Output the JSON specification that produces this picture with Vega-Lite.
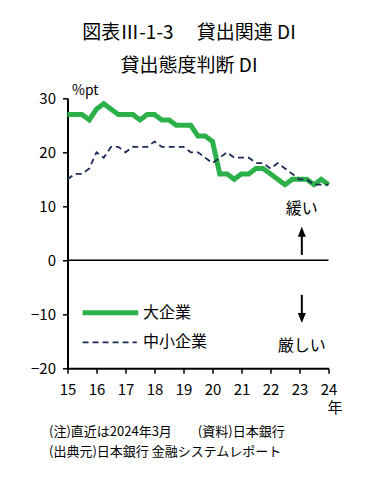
{
  "$schema": "https://vega.github.io/schema/vega-lite/v6.json",
  "width": 261,
  "height": 270,
  "autosize": {"type": "none"},
  "padding": {"left": 67.5, "top": 98.3, "right": 49.5, "bottom": 109.7},
  "background": "white",
  "title": {
    "text": "図表Ⅲ-1-3　 貸出関連 DI",
    "subtitle": "貸出態度判断 DI",
    "anchor": "middle",
    "frame": "group",
    "dx": -9,
    "offset": 7,
    "font": "Noto Sans CJK JP",
    "fontSize": 19,
    "fontWeight": "normal",
    "color": "black",
    "subtitleFont": "Noto Sans CJK JP",
    "subtitleFontSize": 19,
    "subtitleColor": "black",
    "subtitlePadding": 14
  },
  "config": {
    "view": {"stroke": null},
    "font": "Noto Sans CJK JP",
    "axis": {
      "domainColor": "black",
      "domainWidth": 2,
      "tickColor": "black",
      "tickWidth": 1.5,
      "tickSize": 5,
      "labelColor": "black",
      "labelFont": "Noto Sans CJK JP",
      "labelFontSize": 15,
      "labelOverlap": false,
      "titleColor": "black",
      "titleFont": "Noto Sans CJK JP",
      "titleFontWeight": "normal",
      "grid": false
    }
  },
  "datasets": {
    "series": [
      {"t": 15.0, "v": 27, "s": "大企業"}, {"t": 15.25, "v": 27, "s": "大企業"}, {"t": 15.5, "v": 27, "s": "大企業"}, {"t": 15.75, "v": 26, "s": "大企業"},
      {"t": 16.0, "v": 28, "s": "大企業"}, {"t": 16.25, "v": 29, "s": "大企業"}, {"t": 16.5, "v": 28, "s": "大企業"}, {"t": 16.75, "v": 27, "s": "大企業"},
      {"t": 17.0, "v": 27, "s": "大企業"}, {"t": 17.25, "v": 27, "s": "大企業"}, {"t": 17.5, "v": 26, "s": "大企業"}, {"t": 17.75, "v": 27, "s": "大企業"},
      {"t": 18.0, "v": 27, "s": "大企業"}, {"t": 18.25, "v": 26, "s": "大企業"}, {"t": 18.5, "v": 26, "s": "大企業"}, {"t": 18.75, "v": 25, "s": "大企業"},
      {"t": 19.0, "v": 25, "s": "大企業"}, {"t": 19.25, "v": 25, "s": "大企業"}, {"t": 19.5, "v": 23, "s": "大企業"}, {"t": 19.75, "v": 23, "s": "大企業"},
      {"t": 20.0, "v": 22, "s": "大企業"}, {"t": 20.25, "v": 16, "s": "大企業"}, {"t": 20.5, "v": 16, "s": "大企業"}, {"t": 20.75, "v": 15, "s": "大企業"},
      {"t": 21.0, "v": 16, "s": "大企業"}, {"t": 21.25, "v": 16, "s": "大企業"}, {"t": 21.5, "v": 17, "s": "大企業"}, {"t": 21.75, "v": 17, "s": "大企業"},
      {"t": 22.0, "v": 16, "s": "大企業"}, {"t": 22.25, "v": 15, "s": "大企業"}, {"t": 22.5, "v": 14, "s": "大企業"}, {"t": 22.75, "v": 15, "s": "大企業"},
      {"t": 23.0, "v": 15, "s": "大企業"}, {"t": 23.25, "v": 15, "s": "大企業"}, {"t": 23.5, "v": 14, "s": "大企業"}, {"t": 23.75, "v": 15, "s": "大企業"},
      {"t": 24.0, "v": 14, "s": "大企業"},
      {"t": 15.0, "v": 15, "s": "中小企業"}, {"t": 15.25, "v": 16, "s": "中小企業"}, {"t": 15.5, "v": 16, "s": "中小企業"}, {"t": 15.75, "v": 17, "s": "中小企業"},
      {"t": 16.0, "v": 20, "s": "中小企業"}, {"t": 16.25, "v": 19, "s": "中小企業"}, {"t": 16.5, "v": 21, "s": "中小企業"}, {"t": 16.75, "v": 21, "s": "中小企業"},
      {"t": 17.0, "v": 20, "s": "中小企業"}, {"t": 17.25, "v": 21, "s": "中小企業"}, {"t": 17.5, "v": 21, "s": "中小企業"}, {"t": 17.75, "v": 21, "s": "中小企業"},
      {"t": 18.0, "v": 22, "s": "中小企業"}, {"t": 18.25, "v": 21, "s": "中小企業"}, {"t": 18.5, "v": 21, "s": "中小企業"}, {"t": 18.75, "v": 21, "s": "中小企業"},
      {"t": 19.0, "v": 21, "s": "中小企業"}, {"t": 19.25, "v": 20, "s": "中小企業"}, {"t": 19.5, "v": 20, "s": "中小企業"}, {"t": 19.75, "v": 19, "s": "中小企業"},
      {"t": 20.0, "v": 18, "s": "中小企業"}, {"t": 20.25, "v": 19, "s": "中小企業"}, {"t": 20.5, "v": 20, "s": "中小企業"}, {"t": 20.75, "v": 19, "s": "中小企業"},
      {"t": 21.0, "v": 19, "s": "中小企業"}, {"t": 21.25, "v": 19, "s": "中小企業"}, {"t": 21.5, "v": 18, "s": "中小企業"}, {"t": 21.75, "v": 18, "s": "中小企業"},
      {"t": 22.0, "v": 17, "s": "中小企業"}, {"t": 22.25, "v": 18, "s": "中小企業"}, {"t": 22.5, "v": 17, "s": "中小企業"}, {"t": 22.75, "v": 16, "s": "中小企業"},
      {"t": 23.0, "v": 15, "s": "中小企業"}, {"t": 23.25, "v": 15, "s": "中小企業"}, {"t": 23.5, "v": 14, "s": "中小企業"}, {"t": 23.75, "v": 14, "s": "中小企業"},
      {"t": 24.0, "v": 14, "s": "中小企業"}
    ],
    "legendRows": [
      {"s": "大企業", "x1": 15.52, "x2": 17.44, "lx": 17.6, "y": -9.7},
      {"s": "中小企業", "x1": 15.52, "x2": 17.39, "lx": 17.6, "y": -15.2}
    ],
    "notes": [
      {"x": 23.08, "y": 9.5, "label": "緩い", "size": 16},
      {"x": 23.08, "y": -15.9, "label": "厳しい", "size": 16},
      {"x": 24.22, "y": -27.4, "label": "年", "size": 15}
    ],
    "arrows": [
      {"x": 23.08, "y1": 1.0, "y2": 5.0},
      {"x": 23.08, "y1": -6.4, "y2": -10.4}
    ],
    "heads": [
      {"x": 23.08, "y": 5.3, "dir": "up"},
      {"x": 23.08, "y": -10.7, "dir": "down"}
    ]
  },
  "layer": [
    {
      "data": {"values": [{"z": 0}]},
      "mark": {"type": "rule", "color": "black", "strokeWidth": 1.5},
      "encoding": {"y": {"field": "z", "type": "quantitative"}}
    },
    {
      "data": {"name": "series"},
      "mark": {"type": "line", "strokeJoin": "miter", "strokeCap": "butt"},
      "encoding": {
        "x": {
          "field": "t", "type": "quantitative",
          "scale": {"domain": [15, 24], "nice": false, "zero": false},
          "axis": {
            "values": [15, 16, 17, 18, 19, 20, 21, 22, 23, 24],
            "tickCount": 10,
            "labelOverlap": false,
            "labelFlush": false,
            "labelPadding": 9,
            "title": ["(注)直近は2024年3月　　(資料)日本銀行", "(出典元)日本銀行 金融システムレポート"],
            "titleX": -19,
            "titleY": 57,
            "titleAlign": "left",
            "titleBaseline": "top",
            "titleFontSize": 13,
            "titleLineHeight": 20
          }
        },
        "y": {
          "field": "v", "type": "quantitative",
          "scale": {"domain": [-20, 30], "nice": false, "zero": false},
          "axis": {
            "values": [-20, -10, 0, 10, 20, 30],
            "tickCount": 6,
            "labelPadding": 7,
            "title": "%pt",
            "titleAngle": 0,
            "titleAlign": "left",
            "titleBaseline": "alphabetic",
            "titleX": 4,
            "titleY": -4,
            "titleFontSize": 14
          }
        },
        "color": {
          "field": "s", "type": "nominal",
          "scale": {"domain": ["大企業", "中小企業"], "range": ["#2bb04a", "#1d2b57"]},
          "legend": null
        },
        "strokeDash": {
          "field": "s", "type": "nominal",
          "scale": {"domain": ["大企業", "中小企業"], "range": [[1, 0], [6, 4]]},
          "legend": null
        },
        "strokeWidth": {
          "field": "s", "type": "nominal",
          "scale": {"domain": ["大企業", "中小企業"], "range": [5, 1.8]},
          "legend": null
        }
      }
    },
    {
      "data": {"name": "legendRows"},
      "mark": {"type": "rule", "strokeCap": "butt"},
      "encoding": {
        "x": {"field": "x1", "type": "quantitative"},
        "x2": {"field": "x2"},
        "y": {"field": "y", "type": "quantitative"},
        "color": {"field": "s", "type": "nominal", "legend": null},
        "strokeDash": {"field": "s", "type": "nominal", "legend": null},
        "strokeWidth": {"field": "s", "type": "nominal", "legend": null}
      }
    },
    {
      "data": {"name": "legendRows"},
      "mark": {"type": "text", "font": "Noto Sans CJK JP", "fontSize": 16, "color": "black", "align": "left", "baseline": "middle"},
      "encoding": {
        "x": {"field": "lx", "type": "quantitative"},
        "y": {"field": "y", "type": "quantitative"},
        "text": {"field": "s"}
      }
    },
    {
      "data": {"name": "arrows"},
      "mark": {"type": "rule", "color": "black", "strokeWidth": 2},
      "encoding": {
        "x": {"field": "x", "type": "quantitative"},
        "y": {"field": "y1", "type": "quantitative"},
        "y2": {"field": "y2"}
      }
    },
    {
      "data": {"name": "heads"},
      "mark": {"type": "point", "filled": true, "color": "black", "opacity": 1, "size": 100},
      "encoding": {
        "x": {"field": "x", "type": "quantitative"},
        "y": {"field": "y", "type": "quantitative"},
        "shape": {
          "field": "dir", "type": "nominal",
          "scale": {"domain": ["up", "down"], "range": ["M0,-1L0.8,1L-0.8,1Z", "M0,1L0.8,-1L-0.8,-1Z"]},
          "legend": null
        }
      }
    },
    {
      "data": {"name": "notes"},
      "mark": {"type": "text", "font": "Noto Sans CJK JP", "color": "black", "align": "center", "baseline": "middle"},
      "encoding": {
        "x": {"field": "x", "type": "quantitative"},
        "y": {"field": "y", "type": "quantitative"},
        "text": {"field": "label"},
        "size": {"field": "size", "type": "quantitative", "scale": null}
      }
    }
  ]
}
